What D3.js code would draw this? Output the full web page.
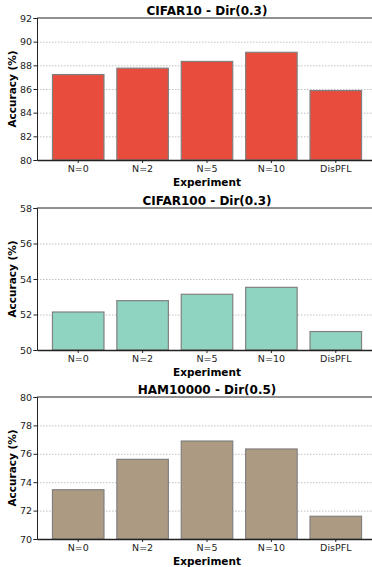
<!DOCTYPE html>
<html>
<head>
<meta charset="utf-8">
<script src="https://cdn.jsdelivr.net/npm/d3@7"></script>
<style>
  body { margin: 0; background: #fff; }
  svg { display: block; font-family: "DejaVu Sans", sans-serif; }
  .grid line { stroke: #b0b0b0; stroke-dasharray: 1.5,1.5; stroke-width: 0.8; }
</style>
</head>
<body>
<div id="chart"></div>
<script>
const experiments = ["N=0", "N=2", "N=5", "N=10", "DisPFL"];
const cifar10Acc = [87.22, 87.76, 88.33, 89.10, 85.87];
const cifar100Acc = [52.14, 52.78, 53.14, 53.53, 51.04];
const hamAcc = [73.47, 75.61, 76.90, 76.34, 71.60];
const titles = ["CIFAR10 - Dir(0.3)", "CIFAR100 - Dir(0.3)", "HAM10000 - Dir(0.5)"];
const yDomains = [[80, 92], [50, 58], [70, 80]];
const yTicks = [[80, 82, 84, 86, 88, 90, 92], [50, 52, 54, 56, 58], [70, 72, 74, 76, 78, 80]];

let panels = [
  {title: titles[0], values: cifar10Acc, domain: yDomains[0], ticks: yTicks[0], color: "#e74c3c", top: 18},
  {title: titles[1], values: cifar100Acc, domain: yDomains[1], ticks: yTicks[1], color: "#8fd3c1", top: 208},
  {title: titles[2], values: hamAcc, domain: yDomains[2], ticks: yTicks[2], color: "#ad9a83", top: 397}
];

let W = 372, H = 567,
    left = 37, right = 377, ph = 142;

let svg = d3.select("#chart")
            .append("svg")
            .attr("width", W)
            .attr("height", H);

let x = d3.scaleBand()
          .domain(experiments)
          .range([left, right])
          .paddingInner(0.2)
          .paddingOuter(0.24);

panels.forEach(function(p) {
    let g = svg.append("g");

    let y = d3.scaleLinear()
              .domain(p.domain)
              .range([p.top + ph, p.top]);

    // dotted grid behind bars
    g.append("g")
     .attr("class", "grid")
     .selectAll("line")
     .data(p.ticks.slice(1, -1))
     .enter()
     .append("line")
     .attr("x1", left)
     .attr("x2", right)
     .attr("y1", function(d) { return y(d) + 0.5; })
     .attr("y2", function(d) { return y(d) + 0.5; });

    g.selectAll("rect")
     .data(p.values)
     .enter()
     .append("rect")
     .attr("x", function(d, i) { return x(experiments[i]); })
     .attr("y", function(d) { return y(d); })
     .attr("width", x.bandwidth())
     .attr("height", function(d) { return y(p.domain[0]) - y(d); })
     .attr("fill", p.color)
     .attr("stroke", "#808080")
     .attr("stroke-width", 1.2);

    let yAxis = g.append("g")
                 .attr("transform", "translate(" + left + ",0)")
                 .call(d3.axisLeft(y).tickValues(p.ticks).tickSize(3.5).tickPadding(1.5).tickFormat(d3.format("d")));
    yAxis.attr("font-family", null);
    yAxis.select(".domain").attr("stroke", "#222").attr("stroke-width", 1);
    yAxis.selectAll(".tick line").attr("stroke", "#222");
    yAxis.selectAll("text").style("font-size", "9.5px").attr("fill", "#222");

    let xAxis = g.append("g")
                 .attr("transform", "translate(0," + (p.top + ph) + ")")
                 .call(d3.axisBottom(x).tickSize(3).tickPadding(2.5).tickSizeOuter(0));
    xAxis.attr("font-family", null);
    xAxis.select(".domain").attr("stroke", "#222").attr("stroke-width", 1.3);
    xAxis.selectAll(".tick line").attr("stroke", "#222");
    xAxis.selectAll("text").style("font-size", "9.5px").attr("fill", "#222");

    // top spine
    g.append("line")
     .attr("x1", left)
     .attr("x2", right)
     .attr("y1", p.top)
     .attr("y2", p.top)
     .attr("stroke", "#222")
     .attr("stroke-width", 1);

    g.append("text")
     .attr("x", (left + right) / 2)
     .attr("y", p.top - 3.5)
     .attr("text-anchor", "middle")
     .style("font-size", "12px")
     .style("font-weight", "bold")
     .text(p.title);

    g.append("text")
     .attr("x", (left + right) / 2)
     .attr("y", p.top + ph + 25.5)
     .attr("text-anchor", "middle")
     .style("font-size", "10.5px")
     .style("font-weight", "bold")
     .text("Experiment");

    g.append("text")
     .attr("transform", "rotate(-90)")
     .attr("x", -(p.top + ph / 2))
     .attr("y", 16)
     .attr("text-anchor", "middle")
     .style("font-size", "10.5px")
     .style("font-weight", "bold")
     .text("Accuracy (%)");
});
</script>
</body>
</html>
